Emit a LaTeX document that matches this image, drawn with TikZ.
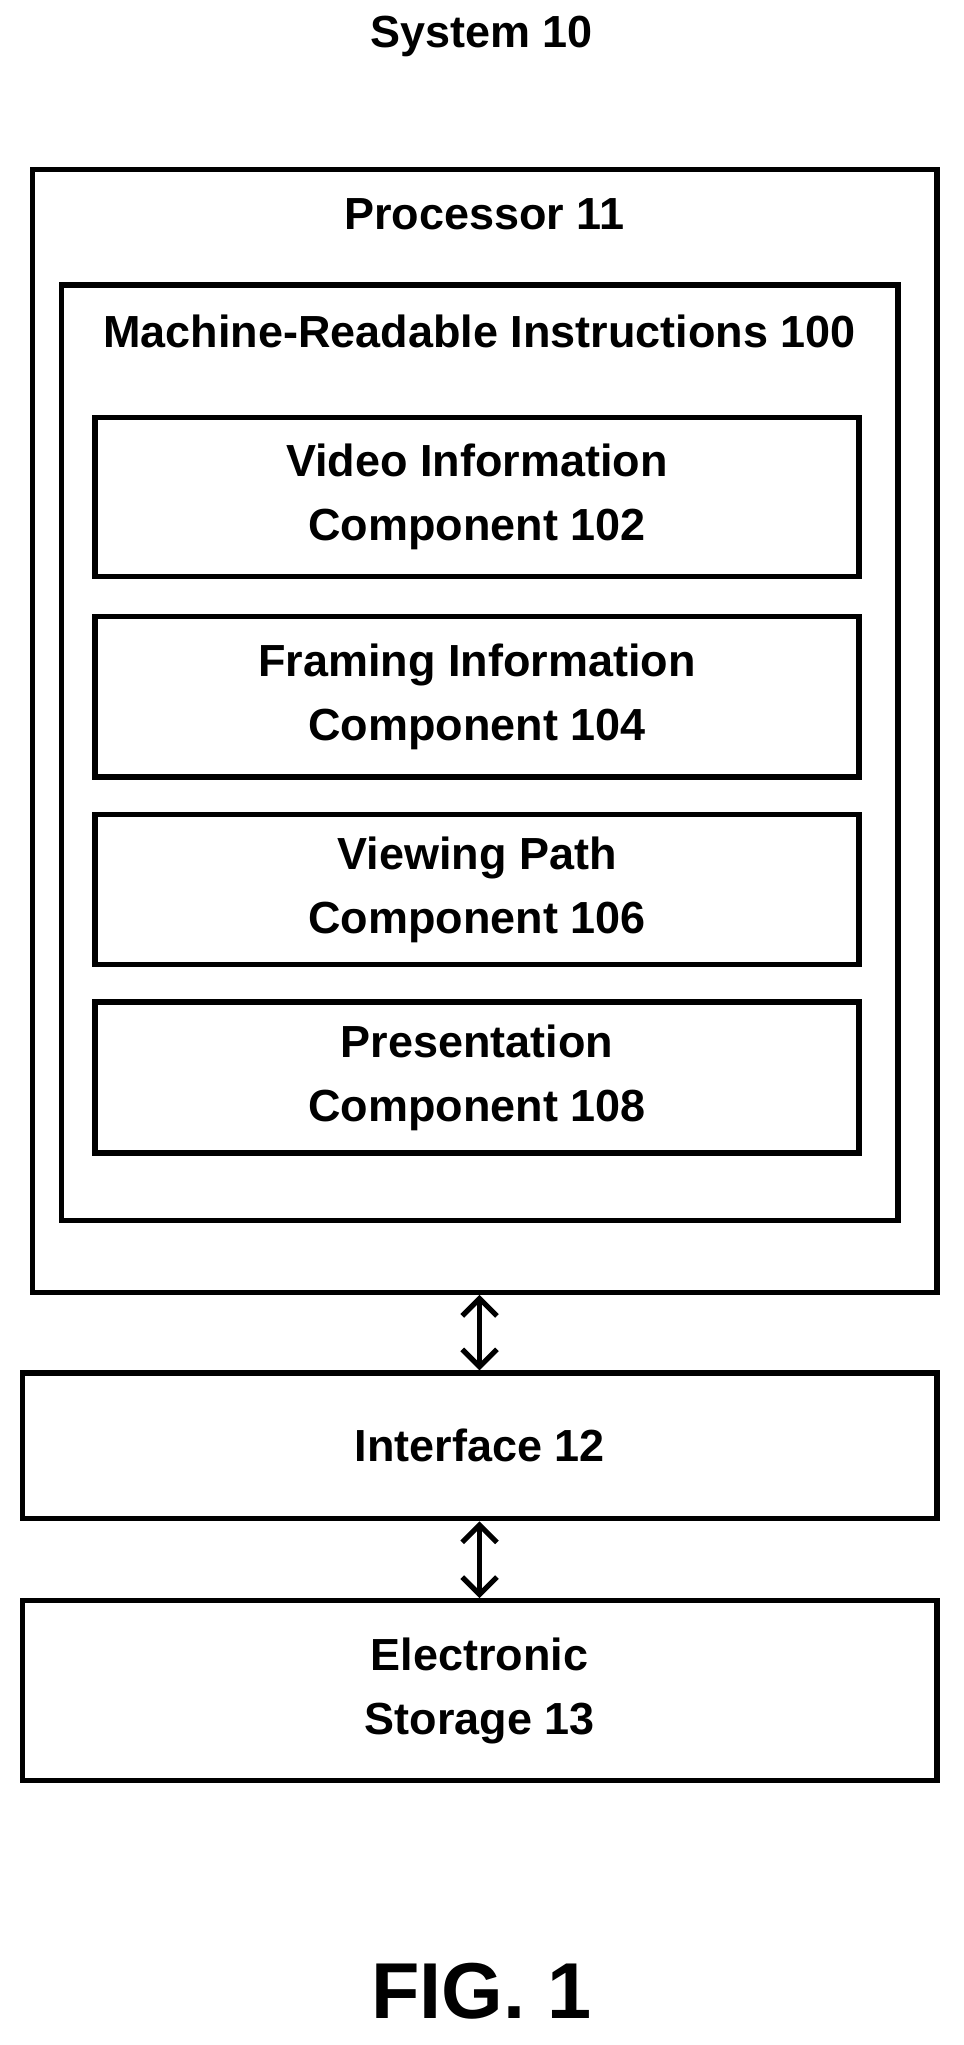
\documentclass[tikz,border=0pt]{standalone}
\usepackage{fontspec}
\setmainfont{Liberation Sans}
\usetikzlibrary{arrows.meta,positioning}
\tikzset{box/.style={rectangle,draw,line width=3.4pt,inner sep=0pt,font=\fontsize{29.5}{42}\selectfont\bfseries,align=center},
         title/.style={rectangle,draw=none,inner sep=0pt,font=\fontsize{29.5}{42}\selectfont\bfseries},
         link/.style={{Straight Barb[length=4mm,width=8mm,line width=3.4pt]}-{Straight Barb[length=4mm,width=8mm,line width=3.4pt]},line width=3.4pt}
}
\begin{document}
\begin{tikzpicture}[x=0.03cm,y=-0.03cm]
\useasboundingbox (0,0) rectangle (740,1571.4);
\node [title] (sys) at (370,28) {System 10};
% processor and instructions
\node [box,minimum width=20.85cm,minimum height=25.89cm] (proc) at (372.5,561.5) {};
\node [title] (proct) at (372,165) {Processor 11};
\node [box,minimum width=19.29cm,minimum height=21.57cm] (mri) at (368.5,578.5) {};
\node [title] (mrit) at (368.5,255) {Machine-Readable Instructions 100};
\node [box,minimum width=17.61cm,minimum height=3.66cm] (c102) at (366.5,382) {Video Information\\Component 102};
\node [box,minimum width=17.61cm,minimum height=3.69cm] (c104) at (366.5,535.5) {Framing Information\\Component 104};
\node [box,minimum width=17.61cm,minimum height=3.45cm] (c106) at (366.5,683.5) {Viewing Path\\Component 106};
\node [box,minimum width=17.61cm,minimum height=3.48cm] (c108) at (366.5,828) {Presentation\\Component 108};
% interface and storage
\node [box,minimum width=21.09cm,minimum height=3.36cm] (intf) at (368.5,1111) {Interface 12};
\node [box,minimum width=21.09cm,minimum height=4.14cm] (stor) at (368.5,1299) {Electronic\\Storage 13};
\draw [link] (proc.south -| intf.north) -- (intf.north);
\draw [link] (intf.south) -- (stor.north);
\node [title,font=\fontsize{52}{60}\selectfont\bfseries] (fig) at (370,1530) {FIG. 1};
\end{tikzpicture}
\end{document}
